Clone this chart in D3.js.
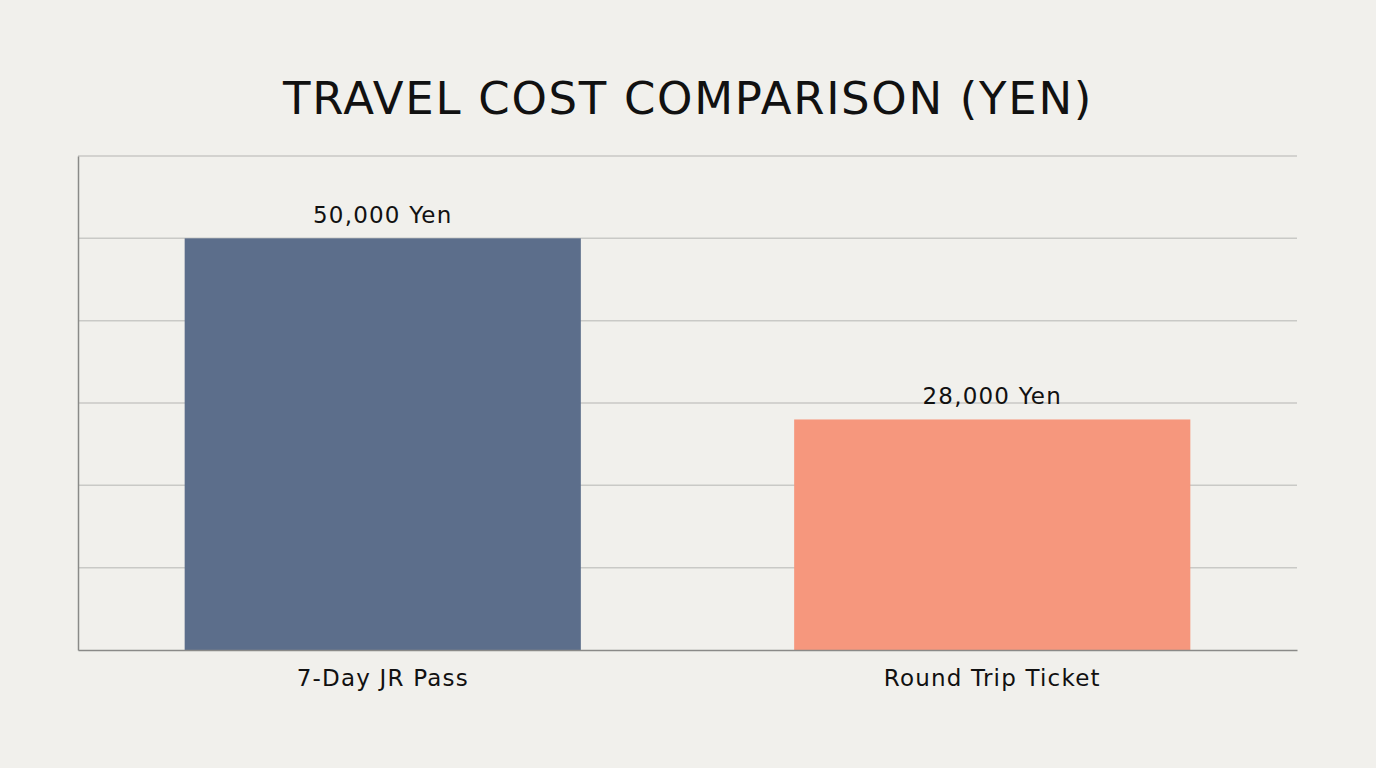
<!DOCTYPE html>
<html>
<head>
<meta charset="utf-8">
<script src="https://cdn.jsdelivr.net/npm/d3@7"></script>
<style>
  html, body { margin: 0; padding: 0; background: #f1f0ec; }
  #chart { width: 1376px; height: 768px; }
  text { font-family: "DejaVu Sans", "Noto Sans", sans-serif; fill: #111; }
</style>
</head>
<body>
<div id="chart"></div>
<script>
  // ---- data ----
  const categories = ["7-Day JR Pass", "Round Trip Ticket"];
  const costs = [50000, 28000];
  const valueLabels = ["50,000 Yen", "28,000 Yen"];
  const barColors = ["#5c6e8b", "#f6977d"];
  const gridValues = [0, 10000, 20000, 30000, 40000, 50000, 60000];
  const chartTitle = "TRAVEL COST COMPARISON (YEN)";

  const W = 1376, H = 768;
  const margin = { top: 156, right: 79, bottom: 118, left: 78 };
  const width = W - margin.left - margin.right;
  const height = H - margin.top - margin.bottom;

  const svg = d3.select("#chart")
    .append("svg")
    .attr("width", W)
    .attr("height", H);

  svg.append("rect").attr("width", W).attr("height", H).attr("fill", "#f1f0ec");

  // title
  svg.append("text")
    .attr("x", W / 2)
    .attr("y", 114)
    .attr("text-anchor", "middle")
    .style("font-size", "45px")
    .style("letter-spacing", "1.7px")
    .text(chartTitle);

  const g = svg.append("g").attr("transform", `translate(${margin.left},${margin.top})`);

  const x = d3.scaleBand()
    .domain(categories)
    .range([0, width])
    .paddingInner(0.35)
    .paddingOuter(0.175);

  const y = d3.scaleLinear().domain([0, 60000]).range([height, 0]);

  // gridlines
  g.selectAll(".grid")
    .data(gridValues.slice(1))
    .enter()
    .append("line")
    .attr("class", "grid")
    .attr("x1", 0)
    .attr("x2", width)
    .attr("y1", (d) => y(d))
    .attr("y2", (d) => y(d))
    .attr("stroke", "#c9c9c6")
    .attr("stroke-width", 1.5);

  // bars
  g.selectAll(".bar")
    .data(costs)
    .enter()
    .append("rect")
    .attr("class", "bar")
    .attr("x", (d, i) => x(categories[i]))
    .attr("y", (d) => y(d))
    .attr("width", x.bandwidth())
    .attr("height", (d) => height - y(d))
    .attr("fill", (d, i) => barColors[i]);

  // value labels
  g.selectAll(".val")
    .data(costs)
    .enter()
    .append("text")
    .attr("class", "val")
    .attr("x", (d, i) => x(categories[i]) + x.bandwidth() / 2)
    .attr("y", (d) => y(d) - 15)
    .attr("text-anchor", "middle")
    .style("font-size", "23px")
    .style("letter-spacing", "1.2px")
    .text((d, i) => valueLabels[i]);

  // axes
  const xAxis = g.append("g")
    .attr("transform", `translate(0,${height})`)
    .call(d3.axisBottom(x).tickSize(0).tickPadding(20));
  xAxis.select(".domain").attr("stroke", "#8a8a88").attr("stroke-width", 1.5);
  xAxis.selectAll(".tick text")
    .style("font-size", "23px")
    .style("letter-spacing", "1.2px")
    .style("font-family", '"DejaVu Sans", "Noto Sans", sans-serif')
    .attr("fill", "#111");

  const yAxis = g.append("g")
    .call(d3.axisLeft(y).tickValues([]).tickSize(0).tickSizeOuter(0));
  yAxis.select(".domain").attr("stroke", "#8a8a88").attr("stroke-width", 1.5);
</script>
</body>
</html>
